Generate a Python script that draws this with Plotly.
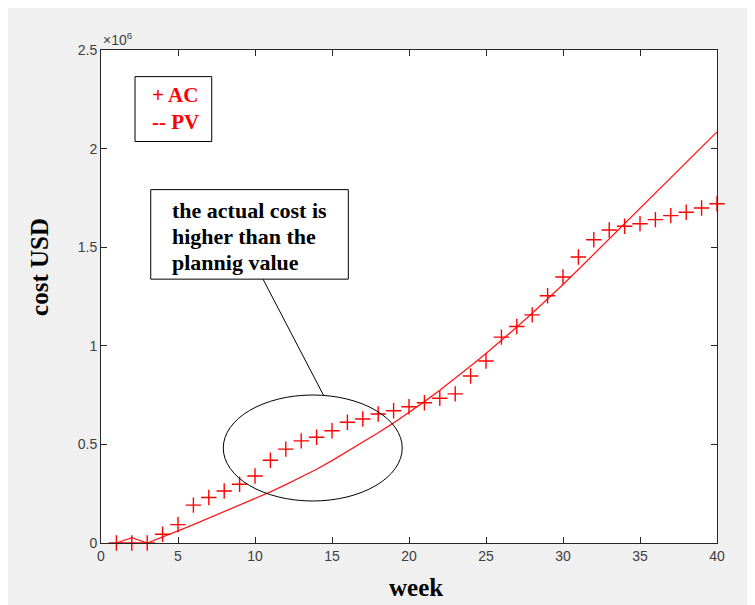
import plotly.graph_objects as go

# ---- data ----
weeks = list(range(1, 41))
ac_millions = [0, 0, 0, 0.044, 0.093, 0.192, 0.231, 0.264, 0.298, 0.340,
               0.420, 0.476, 0.518, 0.536, 0.569, 0.612, 0.629, 0.654, 0.671, 0.691,
               0.711, 0.734, 0.756, 0.847, 0.923, 1.044, 1.098, 1.157, 1.254, 1.349,
               1.450, 1.538, 1.587, 1.606, 1.619, 1.640, 1.660, 1.677, 1.699, 1.720]
pv_millions = [0, 0.027, 0, 0.029, 0.061, 0.093, 0.126, 0.158, 0.190, 0.224,
               0.259, 0.296, 0.334, 0.374, 0.418, 0.464, 0.511, 0.559, 0.609, 0.662,
               0.717, 0.775, 0.835, 0.897, 0.961, 1.027, 1.095, 1.165, 1.237, 1.311,
               1.387, 1.464, 1.542, 1.620, 1.698, 1.776, 1.854, 1.931, 2.008, 2.085]
scale = 1e6
ac = [v * scale for v in ac_millions]
pv = [v * scale for v in pv_millions]

x_ticks = [0, 5, 10, 15, 20, 25, 30, 35, 40]
y_tick_vals = [0, 0.5e6, 1e6, 1.5e6, 2e6, 2.5e6]
y_tick_text = ["0", "0.5", "1", "1.5", "2", "2.5"]
callout_lines = ["the actual cost is", "higher than the", "plannig value"]

RED = "#ff1a1a"
AXIS = "#262626"
TICKFONT = dict(family="Liberation Sans, Arial, sans-serif", size=14, color="#404040")
SERIF = "Liberation Serif, Times New Roman, serif"

fig = go.Figure()
fig.add_trace(go.Scatter(x=weeks, y=pv, mode="lines",
                         line=dict(color=RED, width=1.3), name="PV",
                         showlegend=False))
fig.add_trace(go.Scatter(x=weeks, y=ac, mode="markers",
                         marker=dict(symbol="cross-thin", size=11,
                                     line=dict(color="#ff0000", width=1.4)),
                         name="AC", showlegend=False, cliponaxis=False))

shapes = [
    # legend box
    dict(type="rect", xref="x", yref="y", x0=2.21, x1=7.19, y0=2.036e6, y1=2.365e6,
         line=dict(color="black", width=1), fillcolor="white", layer="above"),
    # callout text box
    dict(type="rect", xref="x", yref="y", x0=3.23, x1=16.06, y0=1.338e6, y1=1.792e6,
         line=dict(color="black", width=1), fillcolor="white", layer="above"),
    # pointer line
    dict(type="line", xref="x", yref="y", x0=10.52, y0=1.338e6, x1=14.44, y1=0.7505e6,
         line=dict(color="black", width=1), layer="above"),
    # ellipse
    dict(type="circle", xref="x", yref="y", x0=7.94, x1=19.56, y0=0.213e6, y1=0.7505e6,
         line=dict(color="black", width=1), layer="above"),
]

annotations = [
    dict(text="<b>+ AC<br>-- PV</b>", xref="x", yref="y", x=3.18, y=2.205e6,
         xanchor="left", yanchor="middle", align="left", showarrow=False,
         font=dict(family=SERIF, size=21, color="#ff0000")),
    dict(text="<b>week</b>", xref="paper", yref="paper", x=0.511, y=-0.091,
         xanchor="center", yanchor="middle", showarrow=False,
         font=dict(family=SERIF, size=25, color="black")),
    dict(text="<b>cost USD</b>", xref="paper", yref="paper", x=-0.099, y=0.56,
         xanchor="center", yanchor="middle", showarrow=False, textangle=-90,
         font=dict(family=SERIF, size=25, color="black")),
    dict(text="\u00d710<sup>6</sup>", xref="paper", yref="paper", x=0.0, y=1.0,
         xanchor="left", yanchor="bottom", showarrow=False,
         font=dict(family="Liberation Sans, Arial, sans-serif", size=14, color="#404040")),
]
callout_y = [1.688e6, 1.556e6, 1.424e6]
for txt, yy in zip(callout_lines, callout_y):
    annotations.append(dict(text="<b>" + txt + "</b>", xref="x", yref="y", x=4.5, y=yy,
                            xanchor="left", yanchor="middle", align="left",
                            showarrow=False,
                            font=dict(family=SERIF, size=22, color="black")))

fig.update_layout(
    width=747, height=597,
    margin=dict(l=93, r=38, t=42, b=62, pad=0),
    paper_bgcolor="#f0f0f0", plot_bgcolor="white",
    shapes=shapes, annotations=annotations,
    showlegend=False,
)
fig.update_xaxes(range=[0, 40], tickvals=x_ticks, ticks="inside", ticklen=6,
                 tickcolor=AXIS, showline=True, linecolor=AXIS, linewidth=1,
                 mirror="ticks", showgrid=False, zeroline=False, tickfont=TICKFONT)
fig.update_yaxes(range=[0, 2.5e6], tickvals=y_tick_vals, ticktext=y_tick_text,
                 ticks="inside", ticklen=6, tickcolor=AXIS, showline=True,
                 linecolor=AXIS, linewidth=1, mirror="ticks", showgrid=False,
                 zeroline=False, tickfont=TICKFONT)

fig.write_html("out.html")
